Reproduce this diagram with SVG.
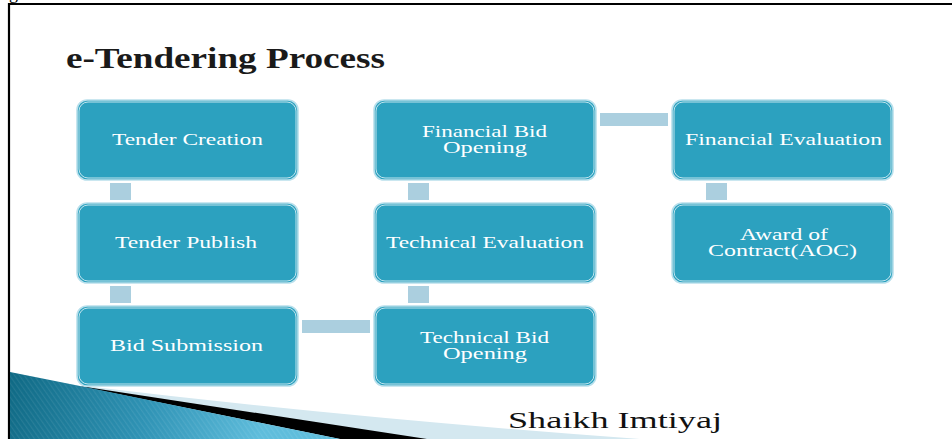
<svg xmlns="http://www.w3.org/2000/svg" width="952" height="439" viewBox="0 0 952 439">
  <defs>
    <linearGradient id="swoosh" gradientUnits="userSpaceOnUse" x1="10" y1="372" x2="260" y2="439">
      <stop offset="0" stop-color="#0f6984"/>
      <stop offset="0.55" stop-color="#2f93b5"/>
      <stop offset="1" stop-color="#5fbddc"/>
    </linearGradient>
    <pattern id="stripes" patternUnits="userSpaceOnUse" width="4" height="4" patternTransform="rotate(-35)">
      <rect x="0" y="0" width="1.2" height="4" fill="#ffffff" fill-opacity="0.08"/>
    </pattern>
  </defs>
  <style>
    .box { fill: #2ca1bf; stroke: #b9e0ec; stroke-width: 1.6; }
    .inner { fill: none; stroke: #e9f6fa; stroke-width: 0.8; }
    .conn { fill: #abcfdf; }
    .lbl { font-family: "Liberation Serif", "Times New Roman", serif; font-size: 16px; fill: #ffffff; }
    .title { font-family: "Liberation Serif", "Times New Roman", serif; font-size: 30px; font-weight: bold; fill: #1a1a1a; }
    .author { font-family: "Liberation Serif", "Times New Roman", serif; font-size: 24px; fill: #111111; }
  </style>
  <rect x="0" y="0" width="952" height="439" fill="#ffffff"/>

  <!-- frame -->
  <g id="frame">
    <text x="9" y="-1" font-family="Liberation Serif, serif" font-size="18" fill="#000">g</text>
    <line x1="8" y1="4" x2="952" y2="4" stroke="#000" stroke-width="2.2"/>
    <line x1="9" y1="3" x2="9" y2="439" stroke="#000" stroke-width="2.2"/>
  </g>

  <!-- bottom swoosh -->
  <g id="swoosh-deco">
    <path d="M85,386 Q350,418 640,439 L85,439 Z" fill="#d4e8f0"/>
    <polygon points="86,387 427,439 340,439 78,386" fill="#000000"/>
    <polygon points="10,372 80,386 340,439 10,439" fill="url(#swoosh)"/>
    <polygon points="10,372 80,386 340,439 10,439" fill="url(#stripes)"/>
  </g>

  <text id="title" class="title" x="66" y="68" textLength="319" lengthAdjust="spacingAndGlyphs">e-Tendering Process</text>

  <!-- connectors -->
  <g id="connectors">
    <rect class="conn" x="110" y="183" width="21" height="17"/>
    <rect class="conn" x="110" y="286" width="21" height="17"/>
    <rect class="conn" x="302" y="320" width="68" height="13"/>
    <rect class="conn" x="408" y="286" width="21" height="17"/>
    <rect class="conn" x="408" y="183" width="21" height="17"/>
    <rect class="conn" x="600" y="113" width="68" height="13"/>
    <rect class="conn" x="706" y="183" width="21" height="17"/>
  </g>

  <g id="tender-creation">
    <rect class="box" x="77" y="100" width="221" height="80" rx="10"/>
    <rect class="inner" x="79" y="102" width="217" height="76" rx="9"/>
    <text class="lbl" x="112" y="145" textLength="151" lengthAdjust="spacingAndGlyphs">Tender Creation</text>
  </g>
  <g id="tender-publish">
    <rect class="box" x="77" y="203" width="221" height="80" rx="10"/>
    <rect class="inner" x="79" y="205" width="217" height="76" rx="9"/>
    <text class="lbl" x="115" y="248" textLength="142" lengthAdjust="spacingAndGlyphs">Tender Publish</text>
  </g>
  <g id="bid-submission">
    <rect class="box" x="77" y="306" width="221" height="80" rx="10"/>
    <rect class="inner" x="79" y="308" width="217" height="76" rx="9"/>
    <text class="lbl" x="110" y="351" textLength="153" lengthAdjust="spacingAndGlyphs">Bid Submission</text>
  </g>
  <g id="technical-bid-opening">
    <rect class="box" x="374" y="306" width="222" height="80" rx="10"/>
    <rect class="inner" x="376" y="308" width="218" height="76" rx="9"/>
    <text class="lbl" x="420" y="343" textLength="129" lengthAdjust="spacingAndGlyphs">Technical Bid</text>
    <text class="lbl" x="443" y="359" textLength="84" lengthAdjust="spacingAndGlyphs">Opening</text>
  </g>
  <g id="technical-evaluation">
    <rect class="box" x="374" y="203" width="222" height="80" rx="10"/>
    <rect class="inner" x="376" y="205" width="218" height="76" rx="9"/>
    <text class="lbl" x="386" y="248" textLength="198" lengthAdjust="spacingAndGlyphs">Technical Evaluation</text>
  </g>
  <g id="financial-bid-opening">
    <rect class="box" x="374" y="100" width="222" height="80" rx="10"/>
    <rect class="inner" x="376" y="102" width="218" height="76" rx="9"/>
    <text class="lbl" x="422" y="137" textLength="125" lengthAdjust="spacingAndGlyphs">Financial Bid</text>
    <text class="lbl" x="443" y="153" textLength="84" lengthAdjust="spacingAndGlyphs">Opening</text>
  </g>
  <g id="financial-evaluation">
    <rect class="box" x="672" y="100" width="221" height="80" rx="10"/>
    <rect class="inner" x="674" y="102" width="217" height="76" rx="9"/>
    <text class="lbl" x="685" y="145" textLength="197" lengthAdjust="spacingAndGlyphs">Financial Evaluation</text>
  </g>
  <g id="award-of-contract">
    <rect class="box" x="672" y="203" width="221" height="80" rx="10"/>
    <rect class="inner" x="674" y="205" width="217" height="76" rx="9"/>
    <text class="lbl" x="740" y="240" textLength="88" lengthAdjust="spacingAndGlyphs">Award of</text>
    <text class="lbl" x="708" y="256" textLength="149" lengthAdjust="spacingAndGlyphs">Contract(AOC)</text>
  </g>

  <text id="author" class="author" x="508" y="428" textLength="214" lengthAdjust="spacingAndGlyphs">Shaikh Imtiyaj</text>
</svg>
